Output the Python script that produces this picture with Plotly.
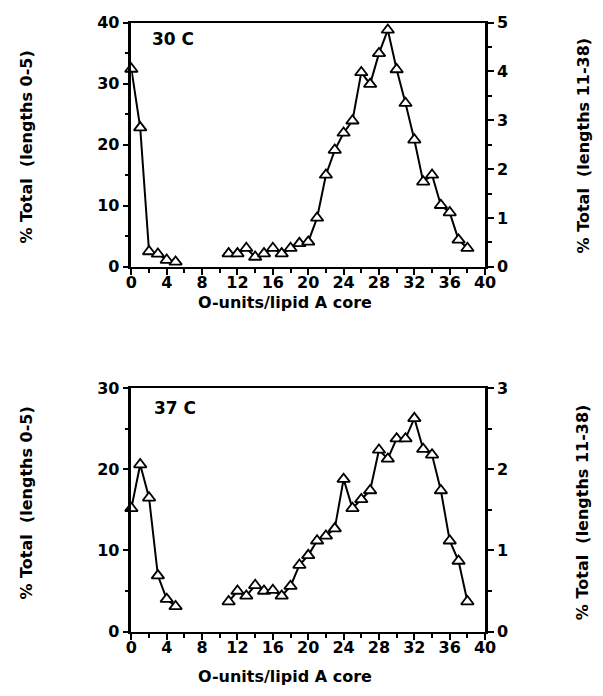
import plotly.graph_objects as go

# ---- data ----
x_short = [0, 1, 2, 3, 4, 5]
x_long = list(range(11, 39))

top_short = [32.4, 22.8, 2.5, 2.1, 1.1, 0.8]
top_long = [0.27, 0.27, 0.38, 0.20, 0.27, 0.38, 0.27, 0.38, 0.48, 0.51,
            1.00, 1.88, 2.39, 2.74, 2.99, 3.98, 3.74, 4.37, 4.85, 4.04,
            3.35, 2.60, 1.74, 1.88, 1.26, 1.11, 0.55, 0.38]

bot_short = [15.2, 20.6, 16.5, 6.9, 4.0, 3.1]
bot_long = [0.37, 0.50, 0.44, 0.57, 0.50, 0.51, 0.44, 0.56, 0.82, 0.94,
            1.12, 1.18, 1.27, 1.88, 1.52, 1.63, 1.74, 2.24, 2.13, 2.38,
            2.38, 2.63, 2.25, 2.18, 1.74, 1.12, 0.87, 0.37]

panel_labels = ["30 C", "37 C"]
x_title = "O-units/lipid A core"
left_title = "% Total  (lengths 0-5)"
right_title = "% Total  (lengths 11-38)"

W, H = 603, 696
TICKFONT = dict(family="DejaVu Sans", size=16, color="black", weight="bold")
TITLEFONT = dict(family="DejaVu Sans", size=16, color="black", weight="bold")
PANELFONT = dict(family="DejaVu Sans", size=17, color="black", weight="bold")

fig = go.Figure()

marker = dict(symbol="triangle-up", size=11, color="white",
              line=dict(color="black", width=1.8))
line = dict(color="black", width=2)

def add(x, y, xa, ya):
    fig.add_trace(go.Scatter(x=x, y=y, mode="lines+markers", line=line,
                             marker=marker, xaxis=xa, yaxis=ya,
                             cliponaxis=False, showlegend=False))

add(x_short, top_short, "x", "y")
add(x_long, top_long, "x", "y2")
add(x_short, bot_short, "x2", "y3")
add(x_long, bot_long, "x2", "y4")

xdom = [129 / W, 493 / W]
top_dom = [1 - 265 / H, 1 - 14 / H]
bot_dom = [1 - 640 / H, 1 - 390 / H]

def xax(anchor):
    return dict(domain=xdom, anchor=anchor, range=[0, 40], dtick=4, tick0=0,
                showline=True, linecolor="black", linewidth=2, mirror=True,
                ticks="outside", ticklen=6, tickwidth=2, tickcolor="black",
                ticklabelstandoff=-6,
                minor=dict(dtick=2, ticks="outside", ticklen=4, tickwidth=2,
                           tickcolor="black"),
                showgrid=False, zeroline=False, tickfont=TICKFONT)

def yax(dom, anchor, rng, dtick, mdtick, side="left", overlay=None):
    d = dict(range=rng, dtick=dtick, tick0=0, side=side, anchor=anchor,
             showline=True, linecolor="black", linewidth=2.5,
             ticks="outside", ticklen=6, tickwidth=2, tickcolor="black",
             minor=dict(dtick=mdtick, ticks="outside", ticklen=4, tickwidth=2,
                        tickcolor="black"),
             showgrid=False, zeroline=False, tickfont=TICKFONT)
    if overlay:
        d["overlaying"] = overlay
    else:
        d["domain"] = dom
    return d

fig.update_layout(
    width=W, height=H, margin=dict(l=0, r=0, t=0, b=0),
    paper_bgcolor="white", plot_bgcolor="white",
    xaxis=xax("y"),
    yaxis=yax(top_dom, "x", [0, 40], 10, 5),
    yaxis2=yax(top_dom, "x", [0, 5], 1, 0.5, side="right", overlay="y"),
    xaxis2=xax("y3"),
    yaxis3=yax(bot_dom, "x2", [0, 30], 10, 5),
    yaxis4=yax(bot_dom, "x2", [0, 3], 1, 0.5, side="right", overlay="y3"),
)

ann = []
def text(x, y, s, angle=0, font=TITLEFONT, xanchor="center"):
    ann.append(dict(x=x / W, y=1 - y / H, xref="paper", yref="paper", text=s,
                    showarrow=False, textangle=angle, font=font,
                    xanchor=xanchor, yanchor="middle"))

text(287, 302, x_title)
text(287, 686, x_title)
text(21, 142, left_title, angle=-90)
text(21, 508, left_title, angle=-90)
text(594, 140, right_title, angle=-90)
text(594, 517, right_title, angle=-90)
text(148, 31, panel_labels[0], font=PANELFONT, xanchor="left")
text(150, 410, panel_labels[1], font=PANELFONT, xanchor="left")
fig.update_layout(annotations=ann)

fig.write_html("out.html")
